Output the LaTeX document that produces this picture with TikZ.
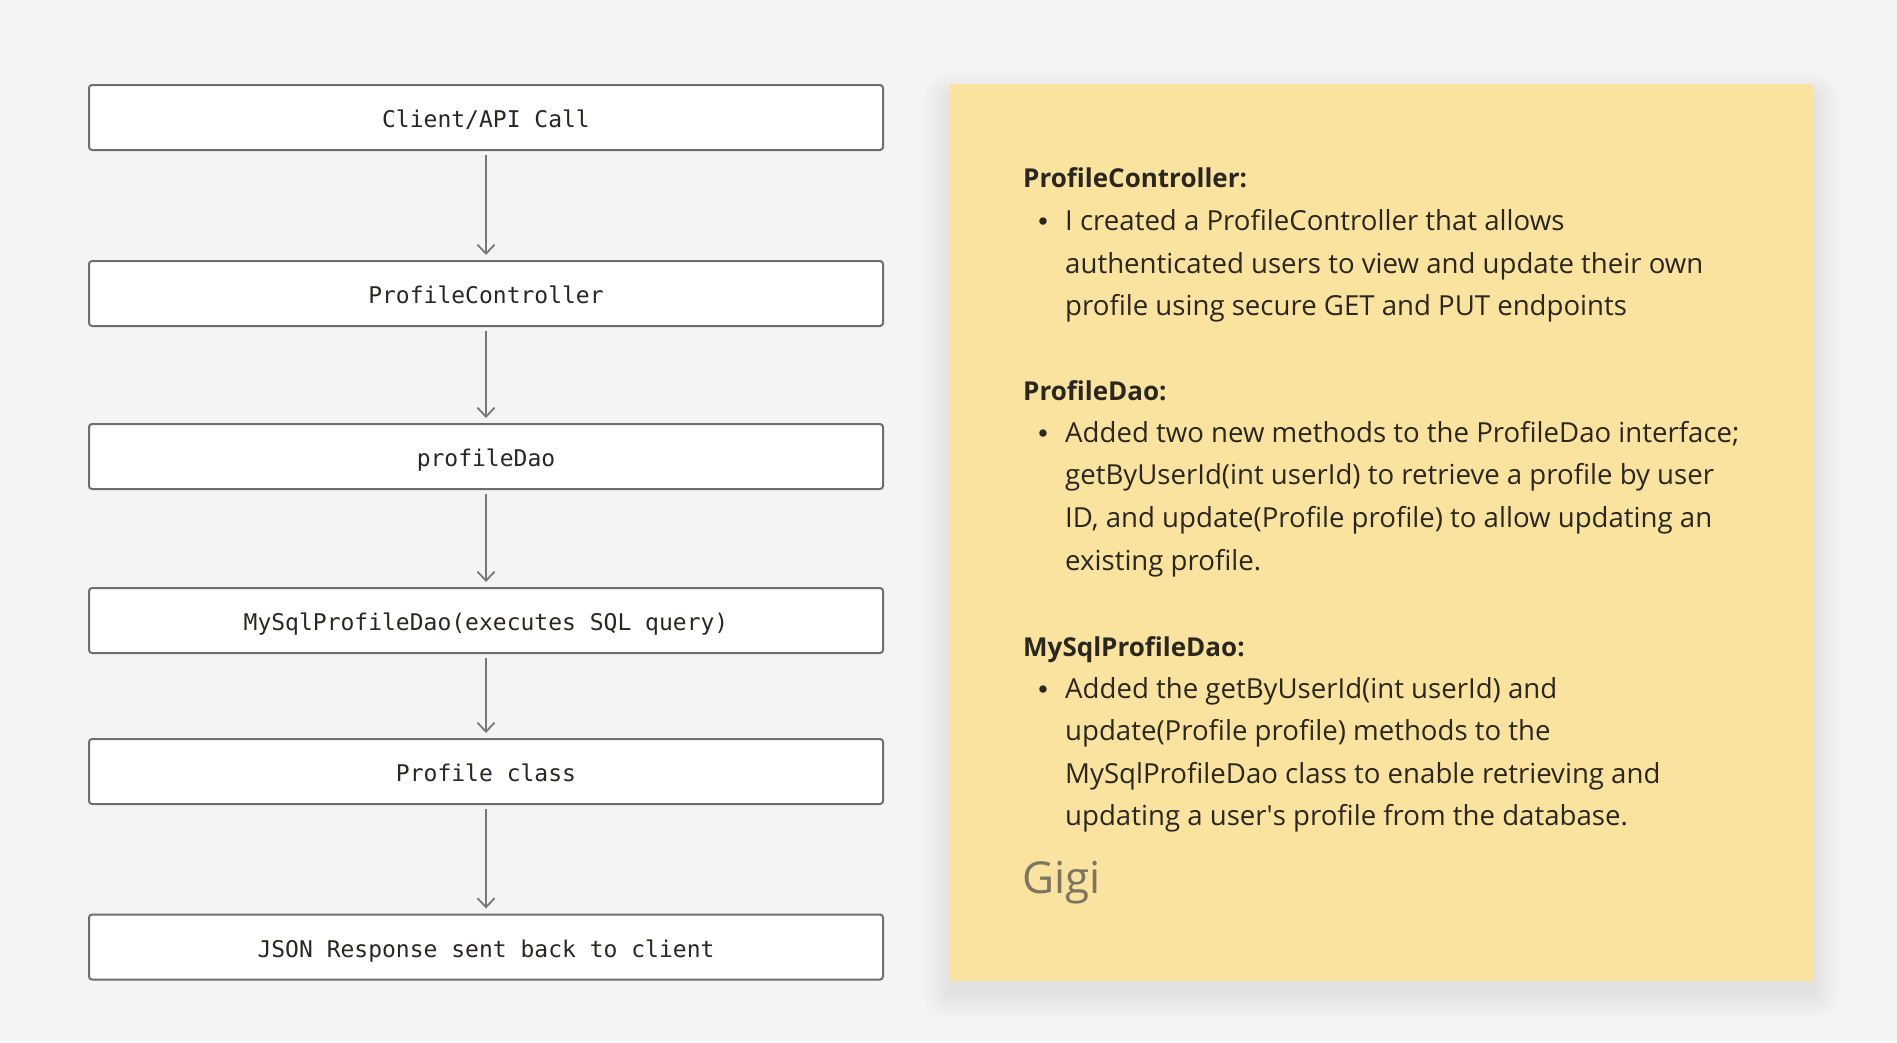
\documentclass[tikz,border=0pt]{standalone}
\usepackage{fontspec}
\setmainfont{Open Sans}
\setmonofont{DejaVu Sans Mono}
\newfontfamily\bulletfont{Liberation Sans}
\usetikzlibrary{arrows.meta}
\definecolor{bg}{HTML}{F4F4F4}
\definecolor{boxgray}{HTML}{6E6E6E}
\definecolor{arrowgray}{HTML}{777777}
\definecolor{note}{HTML}{FAE29F}
\definecolor{ink}{HTML}{2A2720}
\definecolor{sig}{HTML}{7B7562}
\begin{document}
\begin{tikzpicture}[x=1pt,y=-1pt,
  flowbox/.style={draw=boxgray, line width=2pt, fill=white, rounded corners=3pt,
    minimum width=794pt, minimum height=65pt, inner sep=0pt,
    text height=20.4pt, text depth=0pt,
    font=\fontsize{23}{28}\selectfont\ttfamily, text=ink},
  flowarrow/.style={draw=arrowgray, line width=1.8pt,
    -{Straight Barb[length=9pt,width=17pt,line width=1.8pt]},
    shorten <=4pt, shorten >=5pt},
  notehead/.style={anchor=base west, inner sep=0pt, text=ink,
    font=\fontsize{26}{30}\selectfont\bfseries},
  noteline/.style={anchor=base west, inner sep=0pt, text=ink,
    font=\fontsize{27.6}{30}\selectfont},
  notebullet/.style={anchor=base, inner sep=0pt, text=ink,
    font=\fontsize{27}{30}\selectfont\bulletfont}]
\fill[bg] (0,0) rectangle (1897,1042);
\useasboundingbox (0,0) rectangle (1897,1042);

% flow boxes
\node[flowbox] (b1) at (486,117.5) {Client/API Call};
\node[flowbox] (b2) at (486,293.5) {ProfileController};
\node[flowbox] (b3) at (486,456.5) {profileDao};
\node[flowbox] (b4) at (486,620.5) {MySqlProfileDao(executes SQL query)};
\node[flowbox] (b5) at (486,771.5) {Profile class};
\node[flowbox] (b6) at (486,947) {JSON Response sent back to client};

\draw[flowarrow] (b1) -- (b2);
\draw[flowarrow] (b2) -- (b3);
\draw[flowarrow] (b3) -- (b4);
\draw[flowarrow] (b4) -- (b5);
\draw[flowarrow] (b5) -- (b6);

% soft note shadow
\foreach \s in {26,23,...,2}{
  \fill[black, opacity=0.007, rounded corners=\s pt] (950-\s,84-\s+14) rectangle (1813+\s,981+\s+12);
}
% note
\fill[note] (950,84) rectangle (1813,981);

\node[notehead] (h1) at (1023,187) {ProfileController:};
\node[notebullet] (d1) at (1043,230) {\textbullet};
\node[noteline] (l11) at (1065,230) {I created a ProfileController that allows};
\node[noteline] (l12) at (1065,273) {authenticated users to view and update their own};
\node[noteline] (l13) at (1065,315) {profile using secure GET and PUT endpoints};

\node[notehead] (h2) at (1023,400) {ProfileDao:};
\node[notebullet] (d2) at (1043,442) {\textbullet};
\node[noteline] (l21) at (1065,442) {Added two new methods to the ProfileDao interface;};
\node[noteline] (l22) at (1065,484) {getByUserId(int userId) to retrieve a profile by user};
\node[noteline] (l23) at (1065,527) {ID, and update(Profile profile) to allow updating an};
\node[noteline] (l24) at (1065,570) {existing profile.};

\node[notehead] (h3) at (1023,656) {MySqlProfileDao:};
\node[notebullet] (d3) at (1043,698) {\textbullet};
\node[noteline] (l31) at (1065,698) {Added the getByUserId(int userId) and};
\node[noteline] (l32) at (1065,740) {update(Profile profile) methods to the};
\node[noteline] (l33) at (1065,783) {MySqlProfileDao class to enable retrieving and};
\node[noteline] (l34) at (1065,825) {updating a user\textquotesingle s profile from the database.};

\node[anchor=base west, inner sep=0pt, text=sig, font=\fontsize{44}{50}\selectfont] (sig) at (1022,893) {Gigi};
\end{tikzpicture}
\end{document}
